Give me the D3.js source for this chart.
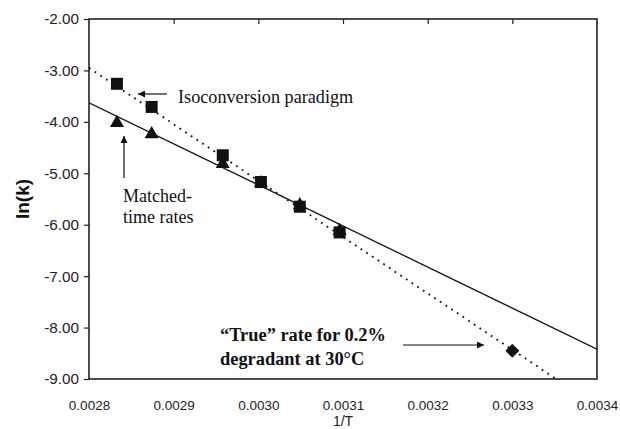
<!DOCTYPE html>
<html><head><meta charset="utf-8">
<script src="https://cdn.jsdelivr.net/npm/d3@7"></script>
<style>body{margin:0;background:#fff}svg{display:block}</style>
</head><body>
<svg id="c" width="620" height="429"></svg>
<script>
// ---- data ----
const xTicks = [0.0028, 0.0029, 0.0030, 0.0031, 0.0032, 0.0033, 0.0034];
const yTicks = [-2, -3, -4, -5, -6, -7, -8, -9];
const isoX = [0.002833, 0.002874, 0.002958, 0.003003, 0.003049, 0.003096];
const isoY = [-3.26, -3.71, -4.65, -5.17, -5.65, -6.15];
const matchX = [0.002833, 0.002874, 0.002958, 0.003003, 0.003049, 0.003096];
const matchY = [-4.00, -4.22, -4.80, -5.17, -5.60, -6.10];
const trueX = [0.0033];
const trueY = [-8.45];
const isoLineX = [0.0028, 0.00335];
const isoLineY = [-2.95, -8.98];
const matchLineX = [0.0028, 0.0034];
const matchLineY = [-3.63, -8.42];
const xLabel = "1/T";
const yLabel = "ln(k)";

const svg = d3.select("#c");
const m = {l: 89, r: 597, t: 19, b: 379};
const x = d3.scaleLinear().domain([0.0028, 0.0034]).range([m.l, m.r]);
const y = d3.scaleLinear().domain([-9, -2]).range([m.b, m.t]);
const fmtY = d => d.toFixed(2);
const fmtX = d => d.toFixed(4);

// axes
const gLeft = svg.append("g").attr("transform", `translate(${m.l},0)`)
  .call(d3.axisLeft(y).tickValues(yTicks).tickFormat(fmtY).tickSize(5).tickPadding(5));
gLeft.select(".domain").remove();
gLeft.selectAll("line").attr("stroke", "#222").attr("stroke-width", 1.2);
gLeft.selectAll("text").attr("font-family", "Liberation Sans, Arial, sans-serif").attr("font-size", 15.3).attr("fill", "#222");

const gBottom = svg.append("g").attr("transform", `translate(0,${m.b})`)
  .call(d3.axisBottom(x).tickValues(xTicks).tickFormat(fmtX).tickSize(0).tickPadding(21));
gBottom.select(".domain").remove();
gBottom.selectAll("text").attr("font-family", "Liberation Sans, Arial, sans-serif").attr("font-size", 13.5).attr("fill", "#222");

const gTop = svg.append("g").attr("transform", `translate(0,${m.t})`)
  .call(d3.axisBottom(x).tickValues(xTicks.slice(1, -1)).tickFormat("").tickSize(5));
gTop.select(".domain").remove();
gTop.selectAll("line").attr("stroke", "#222").attr("stroke-width", 1.2);

// frame
svg.append("rect").attr("x", m.l).attr("y", m.t).attr("width", m.r - m.l).attr("height", m.b - m.t)
  .attr("fill", "none").attr("stroke", "#222").attr("stroke-width", 1.6);

// clip
svg.append("clipPath").attr("id", "clip").append("rect")
  .attr("x", m.l).attr("y", m.t).attr("width", m.r - m.l).attr("height", m.b - m.t);
const plot = svg.append("g").attr("clip-path", "url(#clip)");

const line = d3.line().x(d => x(d[0])).y(d => y(d[1]));
plot.append("path").datum(d3.zip(isoLineX, isoLineY)).attr("d", line)
  .attr("stroke", "#111").attr("stroke-width", 1.8).attr("stroke-dasharray", "1.8,5").attr("fill", "none");
plot.append("path").datum(d3.zip(matchLineX, matchLineY)).attr("d", line)
  .attr("stroke", "#111").attr("stroke-width", 1.3).attr("fill", "none");

// markers
const tri = d3.symbol().type(d3.symbolTriangle).size(85);
svg.append("g").selectAll("path").data(d3.zip(matchX, matchY)).join("path")
  .attr("d", tri).attr("transform", d => `translate(${x(d[0])},${y(d[1]) + 1})`).attr("fill", "#111");
svg.append("g").selectAll("rect").data(d3.zip(isoX, isoY)).join("rect")
  .attr("x", d => x(d[0]) - 6).attr("y", d => y(d[1]) - 6).attr("width", 12).attr("height", 12).attr("fill", "#111");
const dia = d3.symbol().type(d3.symbolDiamond2).size(125);
svg.append("g").selectAll("path").data(d3.zip(trueX, trueY)).join("path")
  .attr("d", dia).attr("transform", d => `translate(${x(d[0])},${y(d[1])})`).attr("fill", "#111");

// axis titles
svg.append("text").attr("transform", `translate(29,${(m.t + m.b) / 2}) rotate(-90)`)
  .attr("text-anchor", "middle").attr("font-family", "Liberation Sans, Arial, sans-serif")
  .attr("font-weight", "bold").attr("font-size", 19).attr("fill", "#111").text(yLabel);
svg.append("text").attr("x", (m.l + m.r) / 2).attr("y", 426)
  .attr("text-anchor", "middle").attr("font-family", "Liberation Sans, Arial, sans-serif")
  .attr("font-size", 14).attr("fill", "#222").text(xLabel);

// annotations
const defs = svg.append("defs");
defs.append("marker").attr("id", "ah").attr("viewBox", "0 0 10 10").attr("refX", 10).attr("refY", 5)
  .attr("markerWidth", 9).attr("markerHeight", 7).attr("markerUnits", "userSpaceOnUse").attr("orient", "auto")
  .append("path").attr("d", "M0,0L10,5L0,10z").attr("fill", "#111");
function arrow(x1, y1, x2, y2) {
  svg.append("line").attr("x1", x1).attr("y1", y1).attr("x2", x2).attr("y2", y2)
    .attr("stroke", "#111").attr("stroke-width", 1.2).attr("marker-end", "url(#ah)");
}
const serif = "Liberation Serif, Times New Roman, serif";
arrow(167, 94, 138, 94);
svg.append("text").attr("x", 178).attr("y", 103).attr("font-family", serif).attr("font-size", 18.2)
  .attr("fill", "#111").text("Isoconversion paradigm");
arrow(124, 178, 124, 136);
const mt = svg.append("text").attr("font-family", serif).attr("font-size", 18).attr("fill", "#111");
mt.append("tspan").attr("x", 123).attr("y", 202).text("Matched-");
mt.append("tspan").attr("x", 123).attr("y", 223).text("time rates");
arrow(403, 345, 484, 345);
const tt = svg.append("text").attr("font-family", serif).attr("font-size", 18.4).attr("font-weight", "bold").attr("fill", "#111");
tt.append("tspan").attr("x", 220).attr("y", 341).text("“True” rate for 0.2%");
tt.append("tspan").attr("x", 220).attr("y", 365).text("degradant at 30°C");
</script>
</body></html>
